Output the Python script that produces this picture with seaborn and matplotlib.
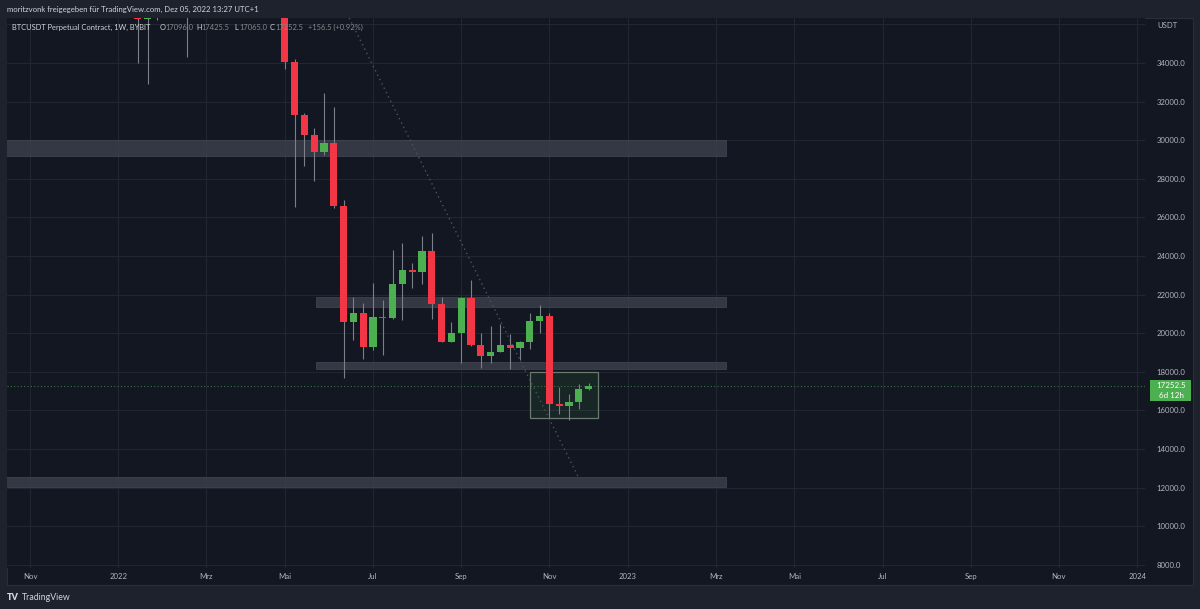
import numpy as np
import pandas as pd
import matplotlib
matplotlib.use("Agg")
import matplotlib.pyplot as plt
import seaborn as sns
from matplotlib.patches import Rectangle
from matplotlib.transforms import blended_transform_factory

# ---------------- data ----------------
first_week = "2022-01-17"
opens  = [43080, 36280, 37900, 42400, 42200, 38400, 37700, 38400, 37800, 42200,
          46800, 46400, 42200, 39700, 39400, 38470, 34050, 31300, 30270, 29400,
          29870, 26570, 20600, 21030, 19270, 20860, 20770, 22530, 23270, 23150,
          24270, 21510, 19560, 19990, 21810, 19390, 18820, 19040, 19400, 19250,
          19540, 20620, 20890, 16330, 16240, 16440, 17096.0]
highs  = [43500, 38900, 42600, 45800, 44700, 39800, 45400, 42500, 42400, 47700,
          48200, 47200, 42400, 42900, 40800, 40000, 34200, 31400, 30630, 32450,
          31740, 26900, 21890, 21580, 22620, 21720, 24300, 24690, 23620, 25050,
          25180, 21890, 20600, 21850, 22760, 20030, 20370, 20470, 19960, 19600,
          21060, 21460, 21060, 17200, 16850, 17370, 17425.5]
lows   = [34000, 32900, 36250, 41700, 38000, 34300, 37400, 37200, 37600, 40900,
          44300, 42100, 39200, 38500, 37600, 33700, 26550, 28650, 27890, 29230,
          26500, 17680, 19650, 18650, 19130, 18870, 20760, 20680, 22360, 22530,
          20740, 19530, 19520, 18460, 19350, 18180, 18440, 19020, 18130, 18610,
          19170, 20030, 15600, 15810, 15500, 16060, 17065.0]
closes = [36280, 37900, 42400, 42200, 38400, 37700, 38400, 37800, 42200, 46800,
          46400, 42200, 39700, 39400, 38470, 34050, 31300, 30270, 29400, 29870,
          26570, 20600, 21030, 19270, 20860, 20770, 22530, 23270, 23150, 24270,
          21510, 19560, 19990, 21810, 19390, 18820, 19040, 19400, 19250, 19540,
          20620, 20890, 16330, 16240, 16440, 17096, 17252.5]

tick_dates  = ["2021-11-01", "2022-01-03", "2022-03-07", "2022-05-02", "2022-07-04",
               "2022-09-05", "2022-11-07", "2023-01-02", "2023-03-06", "2023-05-01",
               "2023-07-03", "2023-09-04", "2023-11-06", "2024-01-01"]
tick_labels = ["Nov", "2022", "Mrz", "Mai", "Jul", "Sep", "Nov",
               "2023", "Mrz", "Mai", "Jul", "Sep", "Nov", "2024"]
price_ticks = [8000, 10000, 12000, 14000, 16000, 18000, 20000, 22000,
               24000, 26000, 28000, 30000, 32000, 34000]

zone_low   = [29180, 21370, 18130, 12030]
zone_high  = [30000, 21900, 18500, 12550]
zone_start = ["2021-09-01", "2022-05-24", "2022-05-24", "2021-09-01"]
zone_end   = ["2023-03-13", "2023-03-13", "2023-03-13", "2023-03-13"]

box_start, box_end = "2022-10-24", "2022-12-12"
box_low, box_high = 15590, 18010

trend_dates  = ["2022-06-17", "2022-11-28"]
trend_prices = [36330, 12500]

last_price = 17252.5
change_text = "+156.5 (+0.92%)"
header = "moritzvonk freigegeben für TradingView.com, Dez 05, 2022 13:27 UTC+1"
symbol_text = "BTCUSDT Perpetual Contract, 1W, BYBIT"

# ---------------- helpers ----------------
origin = pd.Timestamp("2021-11-01")
def widx(d):
    return (pd.to_datetime(d) - origin).days / 7.0

dates = pd.date_range(first_week, periods=len(opens), freq="7D")
df = pd.DataFrame({"date": dates, "open": opens, "high": highs,
                   "low": lows, "close": closes})
df["x"] = [widx(d) for d in df["date"]]

# ---------------- styling ----------------
sns.set_theme(style="dark")
plt.rcParams["font.family"] = ["Lato", "DejaVu Sans"]

BG_OUT = "#1e222d"
BG_PANE = "#131722"
GRID = "#222633"
TXT = "#b2b5be"
GREEN = "#4caf50"
RED = "#f23645"
WICK = "#7b7f8a"

W, H = 1200, 609
fig = plt.figure(figsize=(W / 100, H / 100), dpi=100, facecolor=BG_OUT)

def fx(px): return px / W
def fy(py): return 1 - py / H

fig.add_artist(Rectangle((fx(7), fy(585)), fx(1193) - fx(7), fy(18) - fy(585),
                         transform=fig.transFigure, facecolor=BG_PANE,
                         edgecolor="#2a2e39", lw=0.8, zorder=0))

ax = fig.add_axes([fx(7), fy(568), fx(1145) - fx(7), fy(18) - fy(568)])
ax.set_facecolor(BG_PANE)
for s in ax.spines.values():
    s.set_visible(False)

x_left = (7 - 30) / 9.8
x_right = (1145 - 30) / 9.8
ax.set_xlim(x_left, x_right)
ax.set_ylim(7834, 36330)

# grid
ax.set_xticks([widx(d) for d in tick_dates])
ax.set_xticklabels(tick_labels)
ax.set_yticks(price_ticks + [36000])
ax.set_yticklabels([f"{p:.1f}" for p in price_ticks] + [""])
ax.yaxis.tick_right()
ax.grid(True, color=GRID, lw=0.8)
ax.tick_params(axis="both", length=0, colors=TXT, labelsize=5.6)
ax.tick_params(axis="x", pad=3.5)
ax.tick_params(axis="y", pad=8.5)

# zones
for lo, hi, s, e in zip(zone_low, zone_high, zone_start, zone_end):
    ax.add_patch(Rectangle((widx(s), lo), widx(e) - widx(s), hi - lo,
                           facecolor="#3b3f4b", edgecolor="#4a4e5a", lw=0.5,
                           alpha=0.85, zorder=1))

# green box
ax.add_patch(Rectangle((widx(box_start), box_low), widx(box_end) - widx(box_start),
                       box_high - box_low, facecolor=(0.30, 0.69, 0.31, 0.10),
                       edgecolor="#6b7a6f", lw=0.9, zorder=1))

# trend line (dotted)
trend = pd.DataFrame({"x": [widx(d) for d in trend_dates], "y": trend_prices})
sns.lineplot(data=trend, x="x", y="y", ax=ax, color="#4d5260",
             lw=1.0, linestyle=(0, (1, 2.5)), zorder=2)
ax.set_xlabel("")
ax.set_ylabel("")

# candles
up = df["close"] >= df["open"]
ax.vlines(df["x"], df["low"], df["high"], color=WICK, lw=0.8, zorder=3)
body_h = (df["close"] - df["open"]).abs().clip(lower=60)
body_b = df[["open", "close"]].min(axis=1)
ax.bar(df["x"], body_h, bottom=body_b, width=0.72,
       color=np.where(up, GREEN, RED), edgecolor="none", zorder=4)

# current price line
ax.axhline(last_price, color=GREEN, lw=0.8, ls=(0, (1, 2)), alpha=0.6, zorder=2)

# price label box on axis
bt = blended_transform_factory(fig.transFigure, ax.transData)
px2p = (36330 - 7834) / 550.0
ax.add_patch(Rectangle((fx(1150), last_price - 15 * px2p), fx(1191) - fx(1150),
                       21 * px2p, transform=bt, facecolor=GREEN,
                       edgecolor="none", clip_on=False, zorder=5))
ax.text(fx(1171), last_price + 1 * px2p, f"{last_price:.1f}", transform=bt,
        color="white", fontsize=5.8, ha="center", va="center", zorder=6)
ax.text(fx(1171), last_price - 9.5 * px2p, "6d 12h", transform=bt,
        color="white", fontsize=5.8, ha="center", va="center", zorder=6)

# axis unit
fig.text(fx(1157), fy(26), "USDT", color=TXT, fontsize=5.6, ha="left", va="center")

# header texts
fig.text(fx(7), fy(9), header, color="#d1d4dc", fontsize=5.6, ha="left", va="center")
fig.text(fx(12), fy(27), symbol_text, color="#d1d4dc",
         fontsize=5.4, ha="left", va="center", zorder=10)
legend_parts = [(160, "O", "#d1d4dc"), (165, f"{opens[-1]:.1f}", "#7f8b88"),
                (196, "H", "#d1d4dc"), (201, f"{highs[-1]:.1f}", "#7f8b88"),
                (234, "L", "#d1d4dc"), (239, f"{lows[-1]:.1f}", "#7f8b88"),
                (270, "C", "#d1d4dc"), (275, f"{closes[-1]:.1f}", "#7f8b88"),
                (308, change_text, "#7f8b88")]
for px, s, c in legend_parts:
    fig.text(fx(px), fy(27), s, color=c, fontsize=5.4, ha="left", va="center", zorder=10)

# footer logo
fig.text(fx(7), fy(597), "TV", color="#d1d4dc", fontsize=6.5, fontweight="heavy",
         ha="left", va="center")
fig.text(fx(22), fy(597), "TradingView", color="#d1d4dc", fontsize=6.3,
         ha="left", va="center")

fig.savefig("out.png", dpi=100, facecolor=BG_OUT)
